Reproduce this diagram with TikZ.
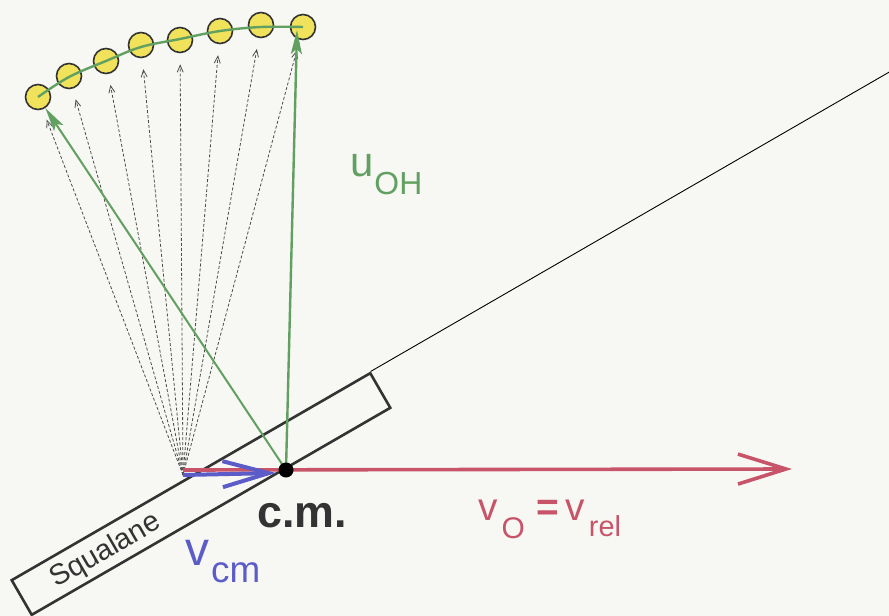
\documentclass[tikz,border=0pt]{standalone}
\usepackage{fontspec}
\setmainfont{Liberation Sans}
\usetikzlibrary{arrows.meta,calc}
\definecolor{bg}{HTML}{F7F8F3}
\definecolor{gr}{HTML}{62A062}
\definecolor{rd}{HTML}{C8546A}
\definecolor{bl}{HTML}{5C5CC8}
\definecolor{dk}{HTML}{333333}
\definecolor{yl}{HTML}{F0E25A}
\tikzset{
  mol/.style={circle,draw=dk,line width=1.6bp,fill=yl,minimum size=25bp,inner sep=0},
  dasharrow/.style={draw=black!70,line width=0.8bp,densely dashed,-{Straight Barb[length=7bp,width=6bp,line width=0.8bp]},shorten >=11bp},
  greenarrow/.style={draw=gr,line width=2.4bp,-{Stealth[length=24bp,width=11bp,inset=5bp]}},
  lbl/.style={anchor=base west,inner sep=0},
}
\begin{document}
\begin{tikzpicture}[x=1bp,y=-1bp]
\fill[bg] (0,0) rectangle (889,616);
\useasboundingbox (0,0) rectangle (889,616);
% squalane slab
\node[draw=dk,line width=2.6bp,rotate=30,minimum width=414bp,minimum height=40bp,inner sep=0] (sq) at (201,494) {};
\node[rotate=30,text=dk,inner sep=0] (sqlbl) at (106,551) {\fontsize{29}{29}\selectfont Squalane};
\coordinate (far) at ($(sq.north west)!2.45!(sq.north east)$);
\draw[line width=0.9bp,black] (sq.north east) -- (far);
% points
\coordinate (o) at (183,475);
\coordinate (cm) at (286,470);
% molecules
\node[mol] (c1) at (38,97) {};
\node[mol] (c2) at (69,76) {};
\node[mol] (c3) at (106,61) {};
\node[mol] (c4) at (141,45) {};
\node[mol] (c5) at (180,40) {};
\node[mol] (c6) at (220,31) {};
\node[mol] (c7) at (261,25) {};
\node[mol] (c8) at (303,27) {};
\draw[gr,line width=2.4bp] plot[smooth,tension=0.6] coordinates {(38,97) (69,77) (106,61) (141,47) (180,39) (220,31) (261,27) (303,27)};
% dashed arrows
\foreach \c in {c1,c2,c3,c4,c5,c6,c7,c8}{
  \draw[dasharrow] (o) -- (\c);
}
% red arrow
\coordinate (rtip) at (792,469);
\draw[rd,line width=3.6bp,-{Straight Barb[length=48bp,width=30bp,line width=3.6bp]}] (o |- cm) -- (rtip);
% blue arrow
\coordinate (btip) at (276,473);
\draw[bl,line width=4bp,-{Straight Barb[length=46bp,width=26bp,line width=4bp]}] (o) -- (btip);
% green arrows
\coordinate (gtip) at (297,30);
\draw[greenarrow,line width=2bp] (cm) -- (c1);
\draw[greenarrow] (cm) -- (gtip);
\fill[black] (cm) circle (7.5bp);
% labels
\node[lbl,text=gr] (uoh) at (350,177) {\fontsize{42}{42}\selectfont u\kern1bp\raisebox{-18bp}{\fontsize{32}{32}\selectfont OH}};
\node[lbl,text=dk] (cmlbl) at (257,527) {\fontsize{45}{45}\selectfont\bfseries c.m.};
\node[lbl,text=bl] (vcm) at (185,565) {\fontsize{48}{48}\selectfont v\kern2bp\raisebox{-17bp}{\fontsize{37}{37}\selectfont cm}};
\node[lbl,text=rd] (vo) at (478,520) {\fontsize{39}{39}\selectfont v\kern4bp\raisebox{-18bp}{\fontsize{30}{30}\selectfont O}\kern12bp\textbf{=}\kern6bp v\kern4bp\raisebox{-16bp}{\fontsize{29}{29}\selectfont rel}};
\end{tikzpicture}
\end{document}
